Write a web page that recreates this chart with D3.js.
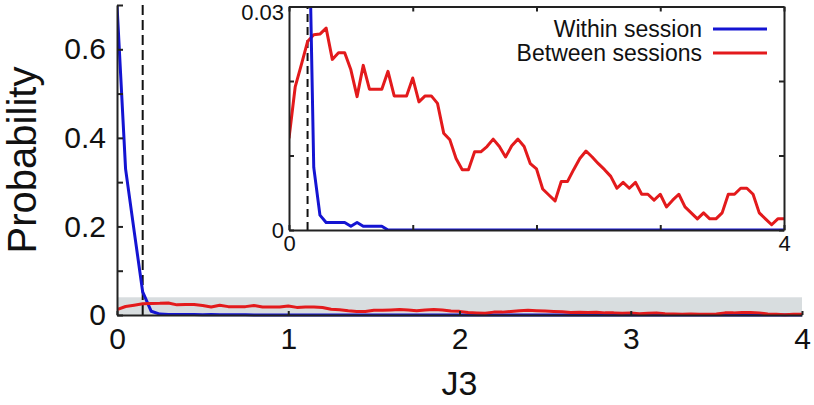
<!DOCTYPE html>
<html>
<head>
<meta charset="utf-8">
<script src="https://cdn.jsdelivr.net/npm/d3@7/dist/d3.min.js"></script>
<style>
  html, body { margin: 0; padding: 0; background: #fff; }
  svg { display: block; font-family: "Liberation Sans", Arial, Helvetica, sans-serif; }
  .axis path, .axis line { stroke: #222; stroke-width: 2; }
  .axis text { fill: #111; }
</style>
</head>
<body>
<svg id="chart" width="814" height="405"></svg>
<script>
// ---------- data ----------
const j3Bins = d3.range(0, 81).map(i => +(i * 0.05).toFixed(2));   // bin centres 0 .. 4, step 0.05
const withinSession = [
  0.70, 0.33, 0.19, 0.052, 0.0084, 0.002, 0.001, 0.001, 0.001, 0.001,
  0.0005, 0.001, 0.0005, 0.0005, 0.0005, 0.0005, 0, 0, 0, 0,
  0, 0, 0, 0, 0, 0, 0, 0, 0, 0,
  0, 0, 0, 0, 0, 0, 0, 0, 0, 0,
  0, 0, 0, 0, 0, 0, 0, 0, 0, 0,
  0, 0, 0, 0, 0, 0, 0, 0, 0, 0,
  0, 0, 0, 0, 0, 0, 0, 0, 0, 0,
  0, 0, 0, 0, 0, 0, 0, 0, 0, 0,
  0
];
const betweenSessions = [
  0.0123, 0.0192, 0.0222, 0.0253, 0.0262, 0.0263, 0.0271, 0.0229, 0.0238, 0.0238,
  0.0215, 0.0179, 0.0221, 0.0189, 0.0189, 0.0189, 0.0213, 0.0180, 0.0180, 0.0180,
  0.0204, 0.0172, 0.0180, 0.0180, 0.0170, 0.0130, 0.0121, 0.0096, 0.0081, 0.0081,
  0.0105, 0.0105, 0.0112, 0.0122, 0.0112, 0.0098, 0.0113, 0.0122, 0.0112, 0.0089,
  0.0082, 0.0055, 0.0047, 0.0039, 0.0065, 0.0065, 0.0081, 0.0096, 0.0106, 0.0098,
  0.0089, 0.0081, 0.0072, 0.0056, 0.0064, 0.0056, 0.0064, 0.0048, 0.0048, 0.0040,
  0.0048, 0.0031, 0.0040, 0.0048, 0.0031, 0.0023, 0.0015, 0.0023, 0.0015, 0.0015,
  0.0023, 0.0048, 0.0048, 0.0056, 0.0056, 0.0048, 0.0023, 0.0015, 0.0007, 0.0015,
  0.0015
];
const threshold = 0.15;
const zoomBandTop = 0.04;
const mainYTicks = [0, 0.1, 0.2, 0.3, 0.4, 0.5, 0.6, 0.7];
const mainYLabels = {0: "0", 0.2: "0.2", 0.4: "0.4", 0.6: "0.6"};
const mainXTicks = [0, 1, 2, 3, 4];
const insetYTicks = [0, 0.01, 0.02, 0.03];
const insetYLabels = {0: "0", 0.03: "0.03"};
const insetXTicks = [0, 1, 2, 3, 4];
const insetXLabels = {0: "0", 4: "4"};
const seriesNames = ["Within session", "Between sessions"];
const colors = {within: "#1414d2", between: "#e31a1c"};

const svg = d3.select("#chart");

// ---------- main axes ----------
const x = d3.scaleLinear().domain([0, 4]).range([117, 802]);
const y = d3.scaleLinear().domain([0, 0.7]).range([315, 5]);

svg.append("defs").append("clipPath").attr("id", "mainClip")
  .append("rect").attr("x", 117).attr("y", 4).attr("width", 690).attr("height", 313);

// grey band
svg.append("rect")
  .attr("x", x(0)).attr("y", y(zoomBandTop))
  .attr("width", x(4) - x(0)).attr("height", y(0) - y(zoomBandTop))
  .attr("fill", "#d8dddf");

const mainLine = d3.line().x((d, i) => x(j3Bins[i])).y(d => y(d));
const gMain = svg.append("g").attr("clip-path", "url(#mainClip)");
gMain.append("line")
  .attr("x1", x(threshold)).attr("x2", x(threshold))
  .attr("y1", y(0)).attr("y2", y(0.7))
  .attr("stroke", "#111").attr("stroke-width", 2).attr("stroke-dasharray", "10,5");
gMain.append("path").datum(withinSession).attr("d", mainLine)
  .attr("fill", "none").attr("stroke", colors.within).attr("stroke-width", 3).attr("stroke-linejoin", "round");
gMain.append("path").datum(betweenSessions).attr("d", mainLine)
  .attr("fill", "none").attr("stroke", colors.between).attr("stroke-width", 3).attr("stroke-linejoin", "round");

const yAxis = svg.append("g").attr("class", "axis").attr("transform", `translate(${x(0)},0)`)
  .call(d3.axisLeft(y).tickValues(mainYTicks).tickSizeInner(-6).tickSizeOuter(0).tickPadding(11)
    .tickFormat(d => mainYLabels[d] !== undefined ? mainYLabels[d] : ""));
yAxis.selectAll("text").style("font-size", "30px");

const xAxis = svg.append("g").attr("class", "axis").attr("transform", `translate(0,${y(0)})`)
  .call(d3.axisBottom(x).tickValues(mainXTicks).tickSizeInner(-4).tickSizeOuter(0).tickPadding(13)
    .tickFormat(d3.format("d")));
xAxis.selectAll("text").style("font-size", "30px");

svg.append("text").attr("transform", `translate(36,${(y(0) + y(0.7)) / 2}) rotate(-90)`)
  .attr("text-anchor", "middle").style("font-size", "40px").attr("fill", "#111").text("Probability");
svg.append("text").attr("x", x(2)).attr("y", 395)
  .attr("text-anchor", "middle").style("font-size", "34px").attr("fill", "#111").text("J3");

// ---------- inset ----------
const xi = d3.scaleLinear().domain([0, 4]).range([289, 784]);
const yi = d3.scaleLinear().domain([0, 0.03]).range([230, 6.5]);

svg.append("rect").attr("x", xi(0)).attr("y", yi(0.03))
  .attr("width", xi(4) - xi(0)).attr("height", yi(0) - yi(0.03)).attr("fill", "#fff");

svg.select("defs").append("clipPath").attr("id", "insetClip")
  .append("rect").attr("x", xi(0)).attr("y", yi(0.03))
  .attr("width", xi(4) - xi(0)).attr("height", yi(0) - yi(0.03));

const insetLine = d3.line().x((d, i) => xi(j3Bins[i])).y(d => yi(d));
const gIn = svg.append("g").attr("clip-path", "url(#insetClip)");
gIn.append("line")
  .attr("x1", xi(threshold)).attr("x2", xi(threshold))
  .attr("y1", yi(0)).attr("y2", yi(0.03))
  .attr("stroke", "#111").attr("stroke-width", 2).attr("stroke-dasharray", "8,5");
gIn.append("path").datum(betweenSessions).attr("d", insetLine)
  .attr("fill", "none").attr("stroke", colors.between).attr("stroke-width", 3).attr("stroke-linejoin", "round");
gIn.append("path").datum(withinSession).attr("d", insetLine)
  .attr("fill", "none").attr("stroke", colors.within).attr("stroke-width", 3).attr("stroke-linejoin", "round");

const ia = (g) => g.attr("class", "axis");
const iyL = svg.append("g").call(ia).attr("transform", `translate(${xi(0)},0)`)
  .call(d3.axisLeft(yi).tickValues(insetYTicks).tickSizeInner(-5).tickSizeOuter(0).tickPadding(5)
    .tickFormat(d => insetYLabels[d] !== undefined ? insetYLabels[d] : ""));
iyL.selectAll("text").style("font-size", "22px");
iyL.selectAll(".tick text").filter(d => d === 0.03).attr("dy", "0.6em");
svg.append("g").call(ia).attr("transform", `translate(${xi(4)},0)`)
  .call(d3.axisRight(yi).tickValues(insetYTicks).tickSizeInner(-5).tickSizeOuter(0).tickFormat(""));
const ixB = svg.append("g").call(ia).attr("transform", `translate(0,${yi(0)})`)
  .call(d3.axisBottom(xi).tickValues(insetXTicks).tickSizeInner(-5).tickSizeOuter(0).tickPadding(5)
    .tickFormat(d => insetXLabels[d] !== undefined ? insetXLabels[d] : ""));
ixB.selectAll("text").style("font-size", "22px");
svg.append("g").call(ia).attr("transform", `translate(0,${yi(0.03)})`)
  .call(d3.axisTop(xi).tickValues(insetXTicks).tickSizeInner(-5).tickSizeOuter(0).tickFormat(""));

// legend
const legend = svg.append("g");
const legColors = [colors.within, colors.between];
seriesNames.forEach((name, i) => {
  const ly = 29 + i * 24;
  legend.append("text").attr("x", 702).attr("y", ly).attr("dy", "0.35em")
    .attr("text-anchor", "end").style("font-size", "23px").attr("fill", "#111").text(name);
  legend.append("line").attr("x1", 713).attr("x2", 767).attr("y1", ly).attr("y2", ly)
    .attr("stroke", legColors[i]).attr("stroke-width", 3);
});
</script>
</body>
</html>
